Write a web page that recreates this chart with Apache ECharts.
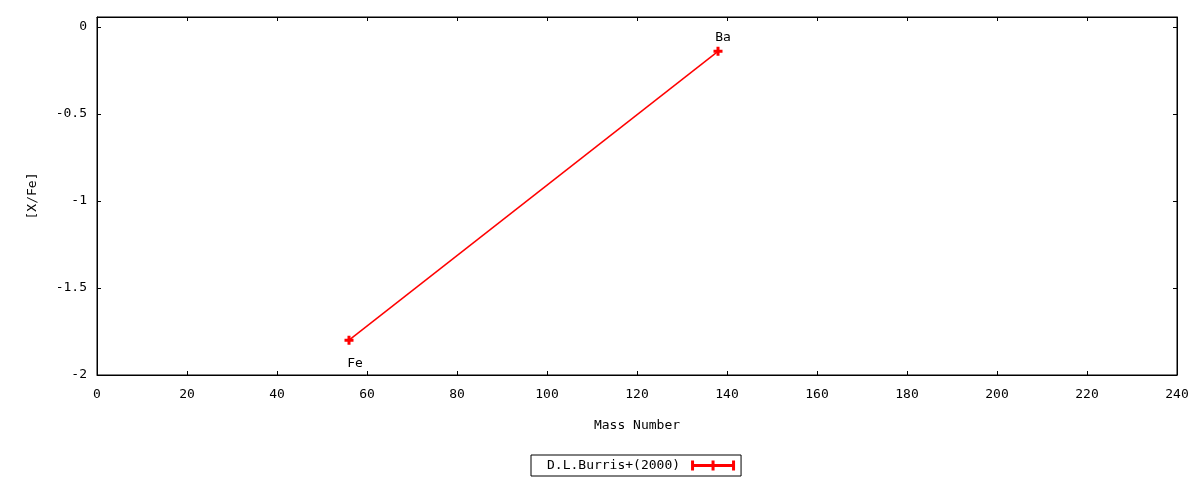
<!DOCTYPE html>
<html>
<head>
<meta charset="utf-8">
<script src="https://cdn.jsdelivr.net/npm/echarts@6/dist/echarts.min.js"></script>
<style>html,body{margin:0;padding:0;background:#fff}#c{width:1200px;height:480px}</style>
</head>
<body>
<div id="c"></div>
<script>
var elements = ['Fe', 'Ba'];
var massNumbers = [56, 138];
var xFe = [-1.80, -0.14];
var seriesName = 'D.L.Burris+(2000)';
var xTicks = [0, 20, 40, 60, 80, 100, 120, 140, 160, 180, 200, 220, 240];
var yTicks = [-2, -1.5, -1, -0.5, 0];

var FONT = 'DejaVu Sans Mono';
var chart = echarts.init(document.getElementById('c'));
var plusPath = 'path://M3,0h3v3h3v3h-3v3h-3v-3h-3v-3h3z';
var labelOffsets = {Fe: [6, 23], Ba: [5, -14]};

var data = massNumbers.map(function (m, i) {
  return {
    value: [m, xFe[i]],
    name: elements[i],
    label: {
      show: true,
      position: 'inside',
      offset: labelOffsets[elements[i]],
      formatter: elements[i],
      color: '#000',
      fontFamily: FONT,
      fontSize: 13
    }
  };
});

function fmtY(v) {
  for (var i = 0; i < yTicks.length; i++) {
    if (Math.abs(v - yTicks[i]) < 1e-9) return String(yTicks[i]);
  }
  return '';
}

function axisCommon() {
  return {
    axisLine: {show: true, onZero: false, lineStyle: {color: '#000', width: 1}},
    axisTick: {show: true, inside: true, length: 4, lineStyle: {color: '#000'}},
    splitLine: {show: false}
  };
}

var option = {
  animation: false,
  backgroundColor: '#fff',
  grid: {left: 97, right: 23, top: 17, bottom: 105, show: true, borderColor: '#000', borderWidth: 1},
  legend: {
    show: true,
    top: 455,
    left: 531,
    align: 'right',
    data: [{name: seriesName, icon: 'path://M0,3.5h44v3H0z M0,0h3v10H0z M20.5,0h3v10h-3z M41,0h3v10h-3z'}],
    itemWidth: 44,
    itemHeight: 10,
    itemGap: 10,
    borderColor: '#000',
    borderWidth: 1,
    borderRadius: 0,
    padding: [4, 6, 4, 16],
    textStyle: {fontFamily: FONT, fontSize: 13, color: '#000', padding: [0, 6, 0, 0]}
  },
  xAxis: [
    Object.assign({
      type: 'value', position: 'bottom', min: 0, max: 240, interval: 20,
      name: 'Mass Number', nameLocation: 'middle', nameGap: 44,
      nameTextStyle: {fontFamily: FONT, fontSize: 13, color: '#000'},
      axisLabel: {fontFamily: FONT, fontSize: 13, color: '#000', margin: 13}
    }, axisCommon()),
    Object.assign({
      type: 'value', position: 'top', min: 0, max: 240, interval: 20,
      axisLabel: {show: false}
    }, axisCommon())
  ],
  yAxis: [
    Object.assign({
      type: 'value', position: 'left', min: -2, max: 0.0575, interval: 0.5,
      name: '[X/Fe]', nameLocation: 'middle', nameGap: 58, nameRotate: 90,
      nameTextStyle: {fontFamily: FONT, fontSize: 13, color: '#000'},
      axisLabel: {fontFamily: FONT, fontSize: 13, color: '#000', margin: 10, formatter: fmtY, showMaxLabel: false}
    }, axisCommon()),
    Object.assign({
      type: 'value', position: 'right', min: -2, max: 0.0575, interval: 0.5,
      axisLabel: {show: false}
    }, axisCommon())
  ],
  series: [{
    name: seriesName,
    type: 'line',
    xAxisIndex: 0,
    yAxisIndex: 0,
    data: data,
    symbol: plusPath,
    symbolSize: 9,
    showAllSymbol: true,
    lineStyle: {color: '#ff0000', width: 1.5},
    itemStyle: {color: '#ff0000'},
    emphasis: {disabled: true}
  }]
};
chart.setOption(option);
</script>
</body>
</html>
